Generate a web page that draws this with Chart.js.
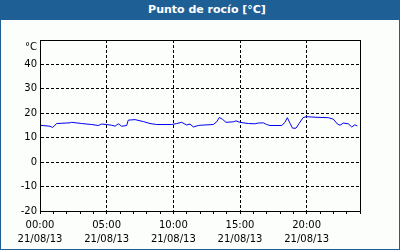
<!DOCTYPE html>
<html>
<head>
<meta charset="utf-8">
<script src="https://cdn.jsdelivr.net/npm/chart.js@4"></script>
<style>
  html, body { margin: 0; padding: 0; background: #fcfefc; }
  #frame { position: relative; width: 400px; height: 250px; box-sizing: border-box;
           border: 1px solid #1e5f96; border-top: none; background: #fcfefc; }
  #title { position: absolute; left: -1px; top: 0; width: 400px; height: 20px; background: #1e5f96;
           color: #fff; font: bold 11px "DejaVu Sans", sans-serif; line-height: 20px;
           text-align: center; box-sizing: border-box; padding-left: 14px; }
  #chartBox { position: absolute; left: 0; top: 20px; width: 398px; height: 229px; }
</style>
</head>
<body>
<div id="frame">
  <div id="title">Punto de rocío [°C]</div>
  <div id="chartBox"><canvas id="mainChart"></canvas></div>
</div>
<script>
// 時刻（時間単位）と露点
const hours = [0.00, 0.75, 0.95, 1.25, 2.25, 2.38, 3.13, 3.88, 4.37, 4.63,
  5.00, 5.38, 5.63, 5.87, 6.13, 6.50, 6.62, 7.13, 7.75, 8.25,
  8.75, 9.88, 10.25, 10.63, 11.00, 11.25, 11.50, 11.87, 12.00, 13.00,
  13.25, 13.45, 13.70, 13.95, 14.50, 14.70, 15.00, 15.62, 16.13, 16.37,
  16.75, 17.00, 17.25, 18.13, 18.37, 18.55, 18.75, 18.94, 19.20, 19.43,
  19.73, 19.95, 21.00, 21.62, 22.00, 22.31, 22.50, 22.75, 23.12, 23.38,
  23.62, 23.80];
const dewPoint = [15.1, 14.7, 14.2, 15.8, 16.1, 16.3, 15.8, 15.4, 15.0, 15.6,
  15.4, 15.1, 14.7, 15.7, 14.7, 15.0, 17.2, 17.4, 16.6, 15.8,
  15.4, 15.4, 15.8, 16.3, 15.2, 15.6, 14.4, 15.0, 15.1, 15.4,
  16.5, 18.3, 17.5, 16.3, 16.5, 16.9, 16.3, 15.8, 15.7, 16.0,
  16.1, 15.4, 15.0, 15.0, 16.3, 18.2, 15.9, 13.9, 13.9, 15.8,
  18.2, 18.6, 18.3, 18.2, 17.6, 15.6, 15.1, 16.0, 15.7, 14.4,
  15.3, 14.8];
const dateLabel = '21/08/13';
const unitLabel = '°C';

const points = hours.map((h, i) => ({ x: h, y: dewPoint[i] }));
const font = { family: 'DejaVu Sans', size: 10, lineHeight: 1.4 };

// 枠線と単位表示
const framePlugin = {
  id: 'frame',
  afterDraw(chart) {
    const a = chart.chartArea;
    const ctx = chart.ctx;
    ctx.save();
    ctx.strokeStyle = '#000';
    ctx.lineWidth = 1;
    ctx.strokeRect(Math.round(a.left) + 0.5, Math.round(a.top) + 0.5,
      Math.round(a.right - a.left), Math.round(a.bottom - a.top));
    ctx.fillStyle = '#000';
    ctx.font = '10px "DejaVu Sans"';
    ctx.textAlign = 'right';
    ctx.textBaseline = 'middle';
    ctx.fillText(unitLabel, a.left - 3, a.top + 7);
    ctx.restore();
  }
};

new Chart(document.getElementById('mainChart'), {
  type: 'line',
  data: {
    datasets: [{
      data: points,
      borderColor: '#0000ee',
      borderWidth: 1,
      pointRadius: 0,
      tension: 0,
    }]
  },
  options: {
    responsive: true,
    maintainAspectRatio: false,
    animation: false,
    layout: { padding: { left: 1, right: 39, top: 20, bottom: 0 } },
    plugins: { legend: { display: false }, tooltip: { enabled: false } },
    scales: {
      x: {
        type: 'linear',
        min: 0,
        max: 24,
        afterFit(scale) { scale.height = 38; },
        ticks: {
          stepSize: 1,
          autoSkip: false,
          maxRotation: 0,
          padding: 4,
          color: '#000',
          font: font,
          callback: function(value) {
            if (value % 5 !== 0 || value >= 24) return '';
            return [String(value).padStart(2, '0') + ':00', dateLabel];
          }
        },
        grid: {
          color: (c) => (c.tick && c.tick.value % 5 === 0 && c.tick.value > 0 && c.tick.value < 24) ? '#000' : 'rgba(0,0,0,0)',
          tickColor: '#000',
          tickLength: 3,
        },
        border: { color: '#000', dash: [3, 2] },
      },
      y: {
        min: -20,
        max: 50,
        afterFit(scale) { scale.width = 38; },
        ticks: {
          stepSize: 10,
          padding: 3,
          color: '#000',
          font: font,
          callback: (value) => value === 50 ? '' : value,
        },
        grid: {
          drawTicks: false,
          color: (c) => (c.tick && c.tick.value > -20 && c.tick.value < 50) ? '#000' : 'rgba(0,0,0,0)',
        },
        border: { color: '#000', dash: [3, 2] },
      }
    }
  },
  plugins: [framePlugin]
});
</script>
</body>
</html>
